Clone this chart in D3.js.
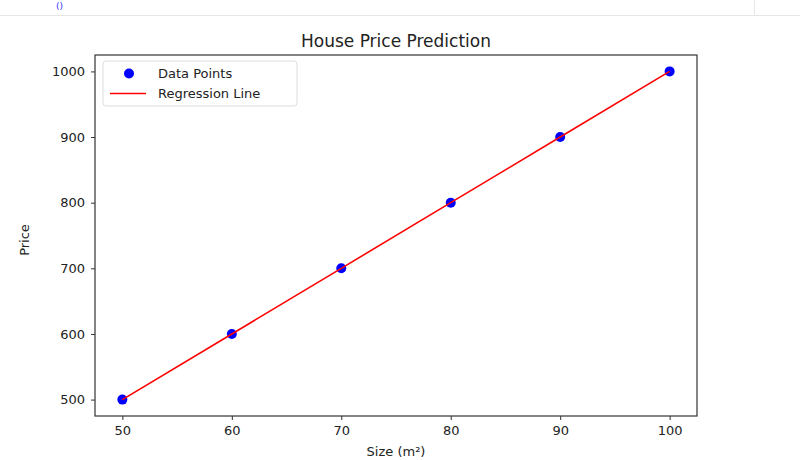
<!DOCTYPE html>
<html><head><meta charset="utf-8">
<script src="https://cdn.jsdelivr.net/npm/d3@7"></script>
<style>body{margin:0;background:#fff}svg{display:block}text{font-family:"DejaVu Sans",sans-serif}</style>
</head><body>
<svg id="c" width="800" height="460"></svg>
<script>
const sizes = [50, 60, 70, 80, 90, 100];
const prices = [500, 600, 700, 800, 900, 1000];
const predicted = [500, 600, 700, 800, 900, 1000];
const xTicks = [50, 60, 70, 80, 90, 100];
const yTicks = [500, 600, 700, 800, 900, 1000];

const svg = d3.select("#c");
const m = {l:95, r:697, t:55, b:416};
const x = d3.scaleLinear().domain([47.5, 102.5]).range([m.l, m.r]);
const y = d3.scaleLinear().domain([475, 1025]).range([m.b, m.t]);

// notebook fragment at top
svg.append("line").attr("x1",0).attr("x2",800).attr("y1",15.5).attr("y2",15.5).attr("stroke","#e6e6e6");
svg.append("line").attr("x1",754.5).attr("x2",754.5).attr("y1",0).attr("y2",15).attr("stroke","#e6e6e6");
svg.append("text").attr("x",56).attr("y",9).attr("font-size",9).attr("fill","#3030ff").text("()");

// axes
const xa = svg.append("g").attr("transform",`translate(0,${m.b})`)
  .call(d3.axisBottom(x).tickValues(xTicks).tickFormat(d3.format("d")).tickSize(4).tickPadding(6));
const ya = svg.append("g").attr("transform",`translate(${m.l},0)`)
  .call(d3.axisLeft(y).tickValues(yTicks).tickFormat(d3.format("d")).tickSize(4).tickPadding(6));
[xa, ya].forEach(a => {
  a.select(".domain").remove();
  a.selectAll("line").attr("stroke","#333");
  a.selectAll("text").attr("font-size",13).attr("fill","#222").style("font-family","DejaVu Sans");
});

svg.append("rect").attr("x",m.l).attr("y",m.t).attr("width",m.r-m.l).attr("height",m.b-m.t)
  .attr("fill","none").attr("stroke","#333").attr("stroke-width",1.2);

// points
svg.selectAll("circle.pt").data(sizes).join("circle").attr("class","pt")
  .attr("cx",(d)=>x(d)).attr("cy",(d,i)=>y(prices[i])).attr("r",5).attr("fill","#0000ff");
// regression line on top
svg.append("path").datum(sizes.map((s,i)=>[s,predicted[i]]))
  .attr("d", d3.line().x(d=>x(d[0])).y(d=>y(d[1])))
  .attr("fill","none").attr("stroke","#ff0000").attr("stroke-width",1.6);

// title and labels
svg.append("text").attr("x",396).attr("y",47).attr("text-anchor","middle").attr("font-size",17).attr("fill","#222").text("House Price Prediction");
svg.append("text").attr("x",396).attr("y",456).attr("text-anchor","middle").attr("font-size",13).attr("fill","#222").text("Size (m²)");
svg.append("text").attr("transform","translate(29,240) rotate(-90)").attr("text-anchor","middle").attr("font-size",13).attr("fill","#222").text("Price");

// legend
const lg = svg.append("g");
lg.append("rect").attr("x",103).attr("y",61).attr("width",194).attr("height",45).attr("rx",3)
  .attr("fill","#fff").attr("fill-opacity",0.8).attr("stroke","#ddd");
lg.append("circle").attr("cx",129).attr("cy",73.5).attr("r",5).attr("fill","#0000ff");
lg.append("line").attr("x1",110).attr("x2",146).attr("y1",93.5).attr("y2",93.5).attr("stroke","#ff0000").attr("stroke-width",1.6);
lg.append("text").attr("x",158).attr("y",78).attr("font-size",13).attr("fill","#222").text("Data Points");
lg.append("text").attr("x",158).attr("y",98).attr("font-size",13).attr("fill","#222").text("Regression Line");
</script>
</body></html>
